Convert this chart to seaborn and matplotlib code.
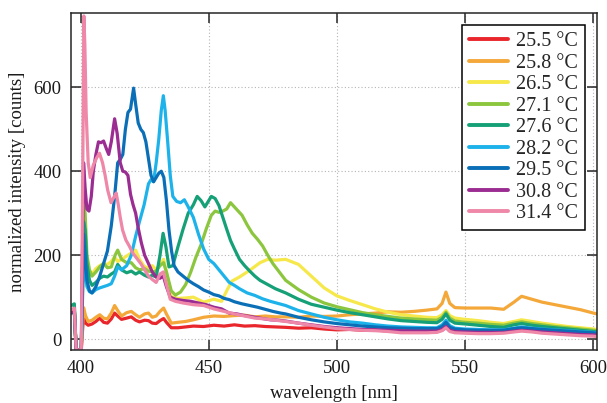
import numpy as np
import pandas as pd
import matplotlib
matplotlib.use("Agg")
import matplotlib.pyplot as plt
import seaborn as sns

# ---------------- data ----------------
temps = ["25.5 °C", "25.8 °C", "26.5 °C", "27.1 °C", "27.6 °C",
         "28.2 °C", "29.5 °C", "30.8 °C", "31.4 °C"]
colors = ["#E8262C", "#F5A83A", "#F6E84A", "#8CC63F", "#16A077",
          "#1DB3EA", "#0A6FB7", "#9B2C92", "#EE87A8"]

# common start (detector edge) and common tail wavelengths
start_wl = [396.4, 397.6, 398.3, 400.3]
tail_wl = [480, 485, 490, 495, 500, 505, 510, 515, 520, 525, 530, 535, 539, 541,
           542.5, 544, 546, 550, 555, 560, 565, 569, 572, 576, 580, 585, 590,
           595, 600, 601.4]

# 25.5 °C
wl_255 = [401.2, 402, 403, 404.5, 406, 407.5, 409, 410.5, 412, 413.3, 414.5, 416,
          418, 419.8, 421.5, 423, 425, 426.5, 428, 429.5, 431, 432.4, 433.5, 435.4,
          438, 441, 444, 448, 452, 456, 460, 464, 468, 472, 476]
v_255 = [60, 38, 33, 36, 42, 50, 40, 38, 48, 62, 55, 47, 50, 53, 45, 41, 45, 44,
         38, 37, 44, 49, 40, 27, 27, 29, 31, 30, 33, 31, 34, 31, 32, 30, 29]
s_255 = [62, 66, -26, -26]
t_255 = [28, 26, 27, 24, 22, 23, 21, 22, 19, 18, 19, 18, 19, 21, 29, 22, 19, 18,
         18, 17, 18, 21, 23, 22, 20, 18, 17, 15, 14, 13]

# 25.8 °C
wl_258 = wl_255
v_258 = [75, 55, 42, 45, 52, 58, 50, 48, 62, 80, 68, 55, 63, 66, 58, 52, 60, 62,
         52, 55, 66, 74, 60, 38, 40, 42, 46, 52, 55, 54, 56, 57, 53, 55, 53]
s_258 = [66, 70, -26, -26]
t_258 = [53, 52, 55, 54, 55, 58, 60, 62, 65, 64, 66, 69, 72, 85, 112, 85, 75, 74,
         74, 74, 71, 88, 102, 95, 88, 82, 76, 70, 62, 60]

# 26.5 °C
wl_265 = [401.2, 402, 403, 404.5, 406, 407.5, 409, 410.5, 412, 413.3, 414.5, 416,
          418, 419.8, 421.5, 423, 425, 426.5, 428, 429.5, 431, 432.4, 433.5, 435.4,
          438, 441, 444, 448, 452, 455, 457, 459, 462, 466, 470, 473, 476]
v_265 = [220, 190, 165, 155, 168, 175, 180, 178, 185, 195, 185, 190, 198, 205,
         212, 190, 172, 170, 175, 165, 178, 190, 160, 101, 97, 98, 100, 88, 95,
         90, 115, 138, 148, 164, 182, 190, 188]
s_265 = [64, 68, -26, -26]
t_265 = [190, 178, 150, 122, 103, 92, 82, 72, 64, 58, 55, 52, 51, 58, 68, 56, 50,
         47, 44, 40, 37, 42, 46, 42, 38, 34, 30, 27, 24, 23]

# 27.1 °C
wl_271 = [401.2, 401.8, 402.5, 403.5, 404.5, 406, 407.5, 409, 410.5, 412, 413.5,
          414.5, 416, 418, 419.8, 421.5, 423, 425, 426.5, 428, 429.5, 431, 432.4,
          433.5, 435.4, 437, 439, 441, 443, 445, 447, 449, 451, 452.5, 454, 455.5,
          457, 458.5, 460, 461.5, 463, 465, 467, 469, 471, 473, 475, 477.5]
v_271 = [330, 300, 200, 165, 150, 160, 172, 180, 170, 172, 200, 212, 190, 182,
         182, 170, 165, 168, 162, 160, 162, 175, 182, 160, 115, 105, 112, 130, 160,
         195, 225, 262, 295, 305, 302, 305, 310, 325, 315, 305, 295, 272, 252, 238,
         222, 200, 180, 160]
s_271 = [68, 72, -26, -26]
t_271 = [140, 118, 100, 86, 77, 70, 63, 58, 54, 50, 48, 46, 45, 52, 64, 50, 43,
         40, 38, 35, 33, 38, 41, 37, 34, 30, 27, 24, 21, 20]

# 27.6 °C
wl_276 = [401.2, 401.8, 402.5, 403.5, 404.5, 406, 407.5, 409, 410.5, 412, 413.3,
          414.5, 416, 418, 419.8, 421.5, 423, 425, 426.5, 428, 429.5, 431, 432.2,
          433.3, 434.5, 436, 438, 440, 442, 444, 445.5, 447, 448.5, 450, 451, 452.5,
          454, 455.5, 457, 458.5, 460, 462, 464, 466, 468, 470, 473, 476]
v_276 = [280, 260, 180, 140, 128, 135, 145, 150, 148, 155, 160, 178, 165, 158,
         162, 155, 160, 152, 148, 152, 148, 200, 252, 220, 172, 175, 220, 262, 300,
         320, 340, 330, 315, 330, 340, 335, 318, 290, 262, 235, 215, 190, 175, 162,
         150, 140, 130, 120]
s_276 = [80, 84, -26, -26]
t_276 = [110, 95, 83, 76, 69, 63, 58, 53, 48, 44, 42, 40, 39, 47, 60, 45, 38, 36,
         33, 30, 28, 34, 37, 33, 30, 27, 24, 21, 18, 17]

# 28.2 °C
wl_282 = [401.2, 401.8, 402.5, 403.5, 404.5, 406, 407.5, 409, 410.5, 412, 413.3,
          414.5, 416, 418, 419.8, 421.5, 423, 424.8, 426.5, 427.5, 428.5, 429.5,
          430.5, 431.5, 432.3, 433, 434, 435, 436, 437.5, 439, 440.5, 442, 444, 446,
          448, 450, 452, 454, 456, 458, 460, 462, 465, 468, 471, 474, 477]
v_282 = [200, 160, 125, 113, 110, 118, 122, 125, 128, 132, 150, 172, 165, 175,
         200, 245, 280, 320, 370, 380, 375, 420, 475, 545, 580, 545, 470, 390, 340,
         328, 325, 332, 315, 290, 250, 215, 190, 180, 165, 150, 135, 128, 120, 110,
         104, 96, 90, 85]
s_282 = [64, 68, -26, -26]
t_282 = [80, 68, 60, 52, 46, 41, 38, 34, 31, 29, 28, 27, 27, 34, 45, 32, 26, 24,
         23, 22, 22, 26, 29, 26, 24, 22, 20, 18, 16, 15]

# 29.5 °C
wl_295 = [401.2, 401.8, 402.5, 403.5, 404.5, 406, 407.5, 409, 410.5, 412, 413.3,
          414.5, 415.5, 416.5, 417.5, 418.5, 419.5, 420.7, 421.5, 422.5, 423.5,
          424.5, 425.5, 426.5, 427.5, 428.5, 429.5, 430.5, 431.5, 432.5, 433.5,
          434.5, 435.5, 436.5, 438, 440, 442, 444, 446, 448, 450, 452, 454, 456,
          458, 460, 463, 466, 469, 472, 475, 478]
v_295 = [250, 200, 140, 115, 110, 125, 150, 180, 210, 270, 340, 420, 428, 440,
         500, 540, 548, 598, 560, 515, 500, 492, 470, 430, 390, 375, 385, 395, 400,
         385, 330, 260, 210, 175, 160, 150, 140, 132, 125, 117, 112, 106, 103, 97,
         94, 89, 84, 80, 76, 71, 66, 62]
s_295 = [62, 66, -26, -26]
t_295 = [60, 52, 46, 41, 37, 34, 31, 29, 27, 26, 25, 25, 25, 30, 40, 28, 24, 22,
         21, 21, 21, 25, 27, 25, 23, 21, 19, 17, 15, 14]

# 30.8 °C
wl_308 = [401.2, 401.8, 402.5, 403.3, 404.2, 405, 406, 407, 408, 409, 410, 411,
          412, 413.3, 414.3, 415.5, 416.5, 417.5, 418.5, 419.5, 420.5, 421.5, 422.5,
          423.7, 425, 426.5, 428, 429.5, 431, 432.3, 433.5, 435, 437, 440, 443, 446,
          449, 452, 455, 458, 461, 464, 467, 470, 474, 477]
v_308 = [420, 360, 310, 305, 340, 400, 440, 470, 468, 472, 455, 440, 470, 525,
         490, 420, 400, 398, 390, 345, 320, 300, 265, 230, 200, 180, 160, 148, 145,
         150, 125, 100, 95, 92, 90, 86, 82, 76, 72, 62, 60, 56, 53, 50, 46, 45]
s_308 = [64, 68, -26, -26]
t_308 = [43, 38, 34, 30, 27, 25, 23, 22, 21, 20, 19, 19, 19, 23, 30, 21, 18, 17,
         16, 16, 16, 19, 21, 19, 17, 15, 13, 11, 10, 9]

# 31.4 °C
wl_314 = [401.0, 401.3, 401.7, 402.2, 403, 403.8, 405, 406.3, 407.4, 408.6, 409.6,
          410.6, 411.9, 413.2, 413.9, 414.6, 415.5, 416.4, 417.7, 419, 420.4, 422,
          423.5, 425, 426.5, 428, 429.5, 431, 432.3, 433.5, 435, 437, 440, 444, 448,
          452, 456, 460, 464, 468, 472, 476]
v_314 = [500, 770, 700, 540, 420, 385, 415, 432, 443, 420, 390, 355, 325, 340,
         348, 325, 290, 260, 236, 222, 205, 192, 180, 165, 150, 142, 135, 155, 160,
         130, 95, 90, 86, 82, 80, 72, 66, 60, 55, 50, 48, 45]
s_314 = [70, 74, -26, -26]
t_314 = [42, 38, 33, 29, 25, 23, 21, 20, 18, 15, 15, 15, 16, 20, 27, 18, 15, 14,
         13, 13, 14, 17, 19, 17, 14, 12, 10, 8, 7, 6]

series = [
    (wl_255, v_255, s_255, t_255), (wl_258, v_258, s_258, t_258),
    (wl_265, v_265, s_265, t_265), (wl_271, v_271, s_271, t_271),
    (wl_276, v_276, s_276, t_276), (wl_282, v_282, s_282, t_282),
    (wl_295, v_295, s_295, t_295), (wl_308, v_308, s_308, t_308),
    (wl_314, v_314, s_314, t_314),
]

x_ticks = [400, 450, 500, 550, 600]
y_ticks = [0, 200, 400, 600]

rows = []
for label, (wl, v, s, t) in zip(temps, series):
    xs = start_wl + list(wl) + tail_wl
    ys = s + list(v) + t
    for xx, yy in zip(xs, ys):
        rows.append((label, xx, yy))
df = pd.DataFrame(rows, columns=["temp", "wavelength", "intensity"])

# ---------------- plot ----------------
sns.set_theme(style="white")
plt.rcParams["font.family"] = ["Liberation Serif", "DejaVu Serif"]
plt.rcParams["mathtext.fontset"] = "stix"

fig = plt.figure(figsize=(6.07, 4.03), dpi=100)
ax = fig.add_axes([0.117, 0.1315, 0.8665, 0.8362])

sns.lineplot(data=df, x="wavelength", y="intensity", hue="temp",
             hue_order=temps, palette=colors, estimator=None, sort=False,
             linewidth=2.3, ax=ax)

ax.set_xlim(396.3, 601.4)
ax.set_ylim(-26, 777)
ax.set_xticks(x_ticks)
ax.set_yticks(y_ticks)
ax.grid(True, linestyle=(0, (1, 2)), color="#b5b5b5", linewidth=0.8)
ax.set_axisbelow(True)
for sp in ax.spines.values():
    sp.set_visible(True)
    sp.set_color("#262626")
    sp.set_linewidth(1.1)
ax.tick_params(direction="in", length=7, width=1.1, colors="#262626",
               top=True, right=True, bottom=True, left=True,
               labelsize=13.5, labelcolor="#1a1a1a", pad=7)
ax.set_xlabel("wavelength [nm]", fontsize=13.5, color="#1a1a1a", labelpad=6)
ax.set_ylabel("normalized intensity [counts]", fontsize=13.5, color="#1a1a1a",
              labelpad=5)

handles, labels = ax.get_legend_handles_labels()
leg = ax.legend(handles, labels, loc="upper right", fontsize=14.5,
                frameon=True, fancybox=False, framealpha=1, edgecolor="black",
                borderpad=0.35, labelspacing=0.12, handlelength=1.9,
                handletextpad=0.4, borderaxespad=0.6)
leg.get_frame().set_linewidth(1.1)
for h in leg.get_lines():
    h.set_linewidth(2.8)

fig.savefig("out.png", dpi=100)
